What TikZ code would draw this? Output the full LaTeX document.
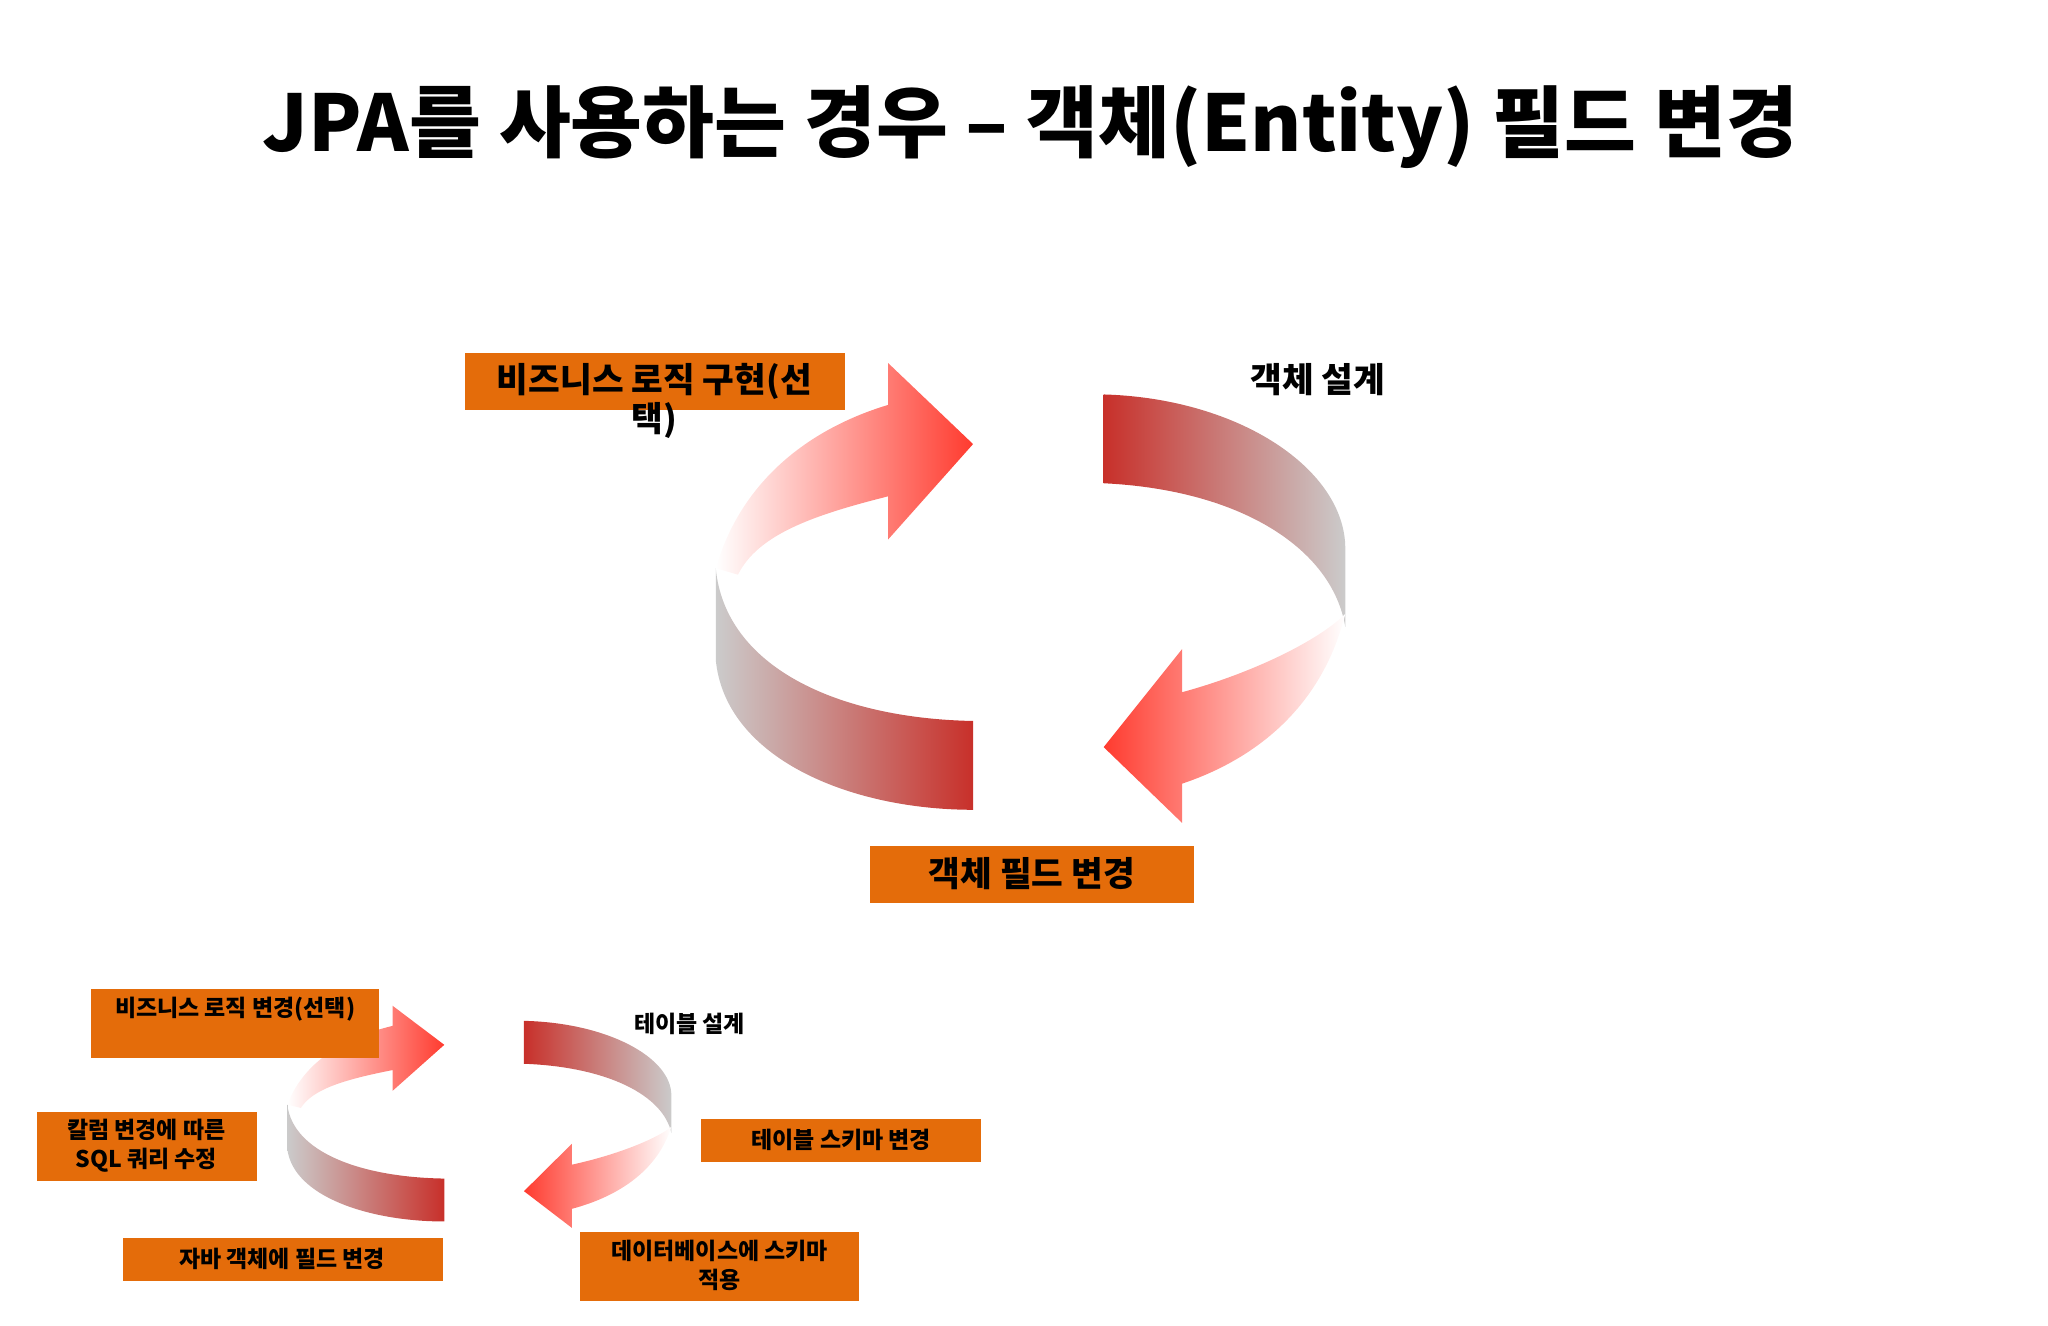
\documentclass[tikz,border=0pt]{standalone}
\usepackage{fontspec}
\setmainfont{Noto Sans CJK KR}
\begin{document}
\begin{tikzpicture}[x=0.01cm,y=-0.01cm,
  obox/.style={fill=orange!80!red!90!black, draw=none},
  lbl/.style={font=\bfseries\fontsize{7.5pt}{9pt}\selectfont, align=center, inner sep=0},
  slbl/.style={font=\bfseries\fontsize{5pt}{6.2pt}\selectfont, align=center, inner sep=0}]
\definecolor{obc}{HTML}{E46C0A}
\definecolor{rd}{HTML}{FF3B2F}
\definecolor{drd}{HTML}{C8302A}
\definecolor{gr}{HTML}{CBCBCB}
\useasboundingbox (0,0) rectangle (1568,1015);
\newcommand{\cyc}{%
 % top-left arrow
 \shade[left color=white, right color=rd]
   (548,435) .. controls (570,360) and (630,325) .. (680,310) -- (680,278) -- (745,340) -- (680,413) -- (680,380)
   .. controls (620,395) and (580,410) .. (565,440) -- cycle;
 % top-right band
 \shade[left color=drd, right color=gr]
   (845,302) .. controls (950,305) and (1030,360) .. (1030,420) -- (1030,480)
   .. controls (1020,420) and (950,375) .. (845,370) -- cycle;
 % bottom-right arrow
 \shade[left color=rd, right color=white]
   (1030,470) .. controls (1010,550) and (950,585) .. (905,600) -- (905,630) -- (845,572) -- (905,497) -- (905,530)
   .. controls (960,515) and (1010,490) .. (1030,470) -- cycle;
 % bottom-left band
 \shade[left color=gr, right color=drd]
   (548,435) -- (548,505) .. controls (555,580) and (650,620) .. (745,620) -- (745,552)
   .. controls (640,550) and (555,510) .. (548,435) -- cycle;
}
\node[font=\bfseries\fontsize{17pt}{20pt}\selectfont] (title) at (789,97) {JPA를 사용하는 경우 – 객체(Entity) 필드 변경};
\cyc
\begin{scope}[shift={(220-0.61*548,770-0.483*278)}, xscale=0.61, yscale=0.483]
\cyc
\end{scope}
% big labels
\fill[obc] (356,270) rectangle (647,314);
\node[lbl] (b1) at (501,292) {비즈니스 로직 구현(선};
\node[lbl] (b1b) at (501,322) {택)};
\node[lbl] (b2) at (1009,291) {객체 설계};
\fill[obc] (666,648) rectangle (914,691);
\node[lbl] (b3) at (790,669) {객체 필드 변경};
% small labels
\fill[obc] (70,757) rectangle (290,810);
\node[slbl] (s1) at (180,773) {비즈니스 로직 변경(선택)};
\fill[obc] (28,851) rectangle (197,904);
\node[slbl] (s2) at (112,877) {칼럼 변경에 따른\\SQL 쿼리 수정};
\fill[obc] (94,948) rectangle (339,981);
\node[slbl] (s3) at (216,964) {자바 객체에 필드 변경};
\node[slbl] (s4) at (528,784) {테이블 설계};
\fill[obc] (537,857) rectangle (751,890);
\node[slbl] (s5) at (644,873) {테이블 스키마 변경};
\fill[obc] (444,943) rectangle (658,996);
\node[slbl] (s6) at (551,969) {데이터베이스에 스키마\\적용};
\end{tikzpicture}
\end{document}
